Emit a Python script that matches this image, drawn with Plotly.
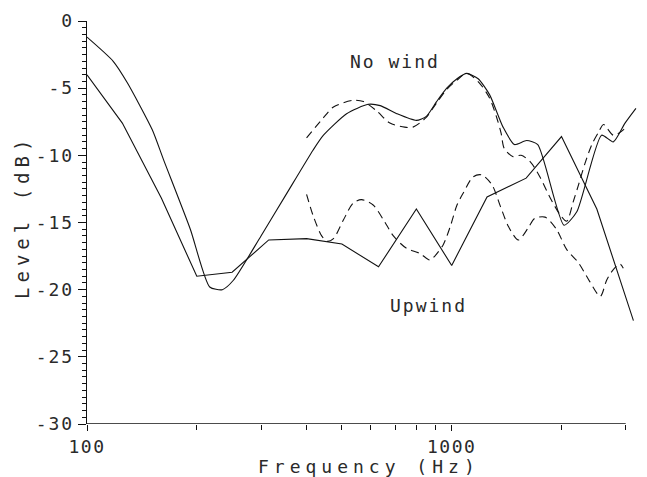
import plotly.graph_objects as go

# ---------------- data ----------------
freq_third = [100, 125, 160, 200, 250, 315, 400, 500, 630, 800, 1000, 1250, 1600, 2000, 2500, 3150]
upwind_solid = [-4.0, -7.6, -13.2, -19.0, -18.7, -16.3, -16.2, -16.6, -18.3, -14.0, -18.2, -13.1, -11.7, -8.6, -14.0, -22.3]

nowind_solid_f = [100, 118, 129, 151, 162, 192, 217, 235, 252, 300, 350, 417, 445, 515, 590, 637, 707,
                  800, 852, 909, 969, 1034, 1100, 1182, 1271, 1383, 1486, 1605, 1722, 2032, 2203, 2576,
                  2774, 2987, 3200]
nowind_solid = [-1.2, -3.0, -4.6, -8.1, -10.3, -15.5, -19.8, -20.0, -19.3, -16.0, -13.0, -9.6, -8.5, -6.9,
                -6.2, -6.3, -6.9, -7.4, -7.1, -6.0, -5.0, -4.3, -3.9, -4.3, -5.5, -7.9, -9.2, -8.9, -9.2,
                -15.2, -14.2, -8.5, -9.0, -7.6, -6.5]

nowind_dash_f = [400, 445, 474, 537, 573, 623, 677, 743, 783, 850, 909, 969, 1034, 1100, 1190, 1271, 1329,
                 1366, 1394, 1474, 1550, 1645, 1753, 1857, 1980, 2066, 2157, 2227, 2320, 2422, 2525, 2608,
                 2774, 2955, 3020]
nowind_dash = [-8.7, -7.2, -6.4, -5.9, -6.0, -6.7, -7.6, -7.9, -7.9, -7.2, -6.1, -5.1, -4.4, -3.9, -4.6,
               -5.75, -7.2, -8.35, -9.5, -10.1, -10.0, -10.5, -11.7, -13.1, -14.4, -14.9, -13.4, -12.2,
               -10.6, -9.2, -8.3, -7.7, -8.5, -8.1, -7.7]

upwind_dash_f = [400, 417, 440, 455, 474, 505, 537, 566, 609, 650, 692, 750, 818, 872, 899, 948, 991, 1034,
                 1076, 1145, 1208, 1290, 1360, 1431, 1523, 1621, 1688, 1803, 1937, 2066, 2227, 2391, 2555,
                 2660, 2774, 2895, 2955]
upwind_dash = [-12.9, -14.5, -16.0, -16.4, -16.2, -14.8, -13.55, -13.3, -13.7, -14.8, -16.0, -16.9, -17.3,
               -17.8, -17.5, -16.65, -15.3, -13.7, -12.8, -11.6, -11.45, -12.2, -13.8, -15.3, -16.3, -15.4,
               -14.7, -14.6, -15.5, -17.0, -18.0, -19.4, -20.5, -19.3, -18.5, -18.1, -18.4]

x_tick_vals = [100, 1000]
x_tick_text = ["100", "1000"]
x_minor_vals = [200, 300, 400, 500, 600, 700, 800, 900, 2000, 3000]
y_tick_vals = [0, -5, -10, -15, -20, -25, -30]
y_tick_text = ["0", "-5", "-10", "-15", "-20", "-25", "-30"]

FONT = "DejaVu Sans Mono"
INK = "#111111"
TXT = "#2a2a2a"

fig = go.Figure()
fig.add_trace(go.Scatter(x=nowind_solid_f, y=nowind_solid, mode="lines",
                         line=dict(color=INK, width=1.1, shape="spline", smoothing=0.6)))
fig.add_trace(go.Scatter(x=freq_third, y=upwind_solid, mode="lines",
                         line=dict(color=INK, width=1.1)))
fig.add_trace(go.Scatter(x=nowind_dash_f, y=nowind_dash, mode="lines",
                         line=dict(color=INK, width=1.1, dash="8px,5px", shape="spline", smoothing=0.8)))
fig.add_trace(go.Scatter(x=upwind_dash_f, y=upwind_dash, mode="lines",
                         line=dict(color=INK, width=1.1, dash="8px,5px", shape="spline", smoothing=0.8)))

# the page body has an 8px margin: the figure is sized/offset to compensate
OFF = 8
W, H = 647 - OFF, 477 - OFF
L, R, T, B = 87 - OFF, 9, 21 - OFF, 53
decade = 364.7
xmax_log = 2 + (W - L - R) / decade

def spaced(s, px):
    return '<span style="letter-spacing:%spx">%s</span>' % (px, s)

fig.update_layout(
    width=W, height=H,
    margin=dict(l=L, r=R, t=T, b=B, autoexpand=False),
    paper_bgcolor="white", plot_bgcolor="white",
    showlegend=False,
    font=dict(family=FONT, color=TXT, size=19),
    xaxis=dict(type="log", range=[2, xmax_log], showgrid=False, zeroline=False,
               showline=False, ticks="outside", ticklen=6, tickwidth=1.2, tickcolor=INK,
               tickmode="array", tickvals=x_tick_vals, ticktext=[spaced(t, 1.5) for t in x_tick_text],
               tickfont=dict(family=FONT, size=18, color=TXT),
               minor=dict(tickmode="array", tickvals=x_minor_vals, ticks="outside",
                          ticklen=5, tickwidth=1.2, tickcolor=INK, showgrid=False)),
    yaxis=dict(range=[-30, 0], showgrid=False, zeroline=False,
               showline=True, linecolor=INK, linewidth=1.4,
               ticks="outside", ticklen=8, tickwidth=1.2, tickcolor=INK,
               tickmode="array", tickvals=y_tick_vals, ticktext=[spaced(t, 2) for t in y_tick_text],
               tickfont=dict(family=FONT, size=18, color=TXT),
               minor=dict(tickmode="array",
                          tickvals=[-k * 0.5 for k in range(61) if k % 10 != 0],
                          ticks="outside", ticklen=4, tickwidth=1, tickcolor=INK, showgrid=False)),
)

# bottom axis line from 100 Hz to 3000 Hz
fig.add_shape(type="line", xref="x", yref="y", x0=100, x1=3000, y0=-30, y1=-30,
              line=dict(color=INK, width=1.4))

def px_to_paper(px, py):
    # px, py in page pixels of the reference
    return (px - OFF - L) / (W - L - R), (H - B - (py - OFF)) / (H - T - B)

ax, ay = px_to_paper(369, 466)
fig.add_annotation(text=spaced("Frequency (Hz)", 5), x=ax, y=ay,
                   xref="paper", yref="paper", showarrow=False, xanchor="center", yanchor="middle",
                   font=dict(family=FONT, size=18, color=TXT))
ax, ay = px_to_paper(22, 217)
fig.add_annotation(text=spaced("Level (dB)", 5), x=ax, y=ay, textangle=-90,
                   xref="paper", yref="paper", showarrow=False, xanchor="center", yanchor="middle",
                   font=dict(family=FONT, size=19, color=TXT))
ax, ay = px_to_paper(395, 62)
fig.add_annotation(text=spaced("No wind", 2), x=ax, y=ay,
                   xref="paper", yref="paper", showarrow=False, xanchor="center", yanchor="middle",
                   font=dict(family=FONT, size=18, color=TXT))
ax, ay = px_to_paper(428, 305)
fig.add_annotation(text=spaced("Upwind", 2), x=ax, y=ay,
                   xref="paper", yref="paper", showarrow=False, xanchor="center", yanchor="middle",
                   font=dict(family=FONT, size=18, color=TXT))

fig.write_html("out.html")
